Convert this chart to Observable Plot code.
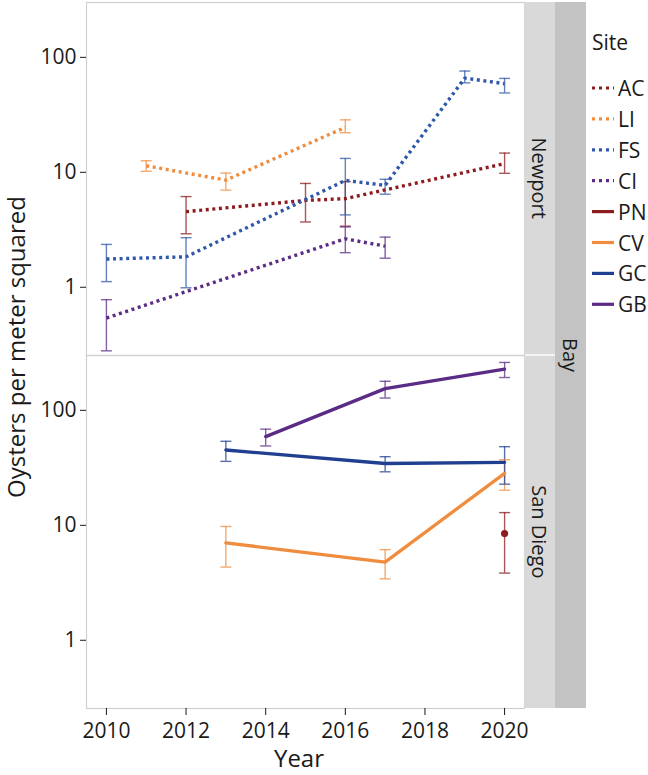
<!DOCTYPE html>
<html><head><meta charset="utf-8">
<script src="https://cdn.jsdelivr.net/npm/d3@7"></script>
<script src="https://cdn.jsdelivr.net/npm/@observablehq/plot@0.6"></script>
<style>
body{margin:0;background:#fff;}
#chart svg{display:block}
g[aria-label="x-axis tick"], g[aria-label="y-axis tick"]{stroke:#9a9a9a;}
g[aria-label="x-axis tick label"], g[aria-label="y-axis tick label"],
g[aria-label="x-axis tick label"] text, g[aria-label="y-axis tick label"] text{
  font-size:21px !important; font-family:'Open Sans', sans-serif !important; fill:#1a1a1a;}
</style></head><body><div id="chart"></div>
<script>
// Sites, their bay and colour
const sites = ["AC","LI","FS","CI","PN","CV","GC","GB"];
const siteBay = ["Newport","Newport","Newport","Newport","San Diego","San Diego","San Diego","San Diego"];
const siteColors = ["#8E1B1E","#F08C3E","#2F58A8","#5B2C86","#8E1B1E","#F08C3E","#213F90","#5B2C86"];
const bays = ["Newport","San Diego"];
const xTicks = [2010,2012,2014,2016,2018,2020];
const yTicks = [1,10,100];

// Observations (mean and error-bar limits, oysters per m²)
const obsSite = ["AC","AC","AC","AC","LI","LI","LI","FS","FS","FS","FS","FS","FS","CI","CI","CI","PN","CV","CV","CV","GC","GC","GC","GB","GB","GB"];
const obsYear = [2012,2015,2016,2020, 2011,2013,2016, 2010,2012,2016,2017,2019,2020, 2010,2016,2017, 2020, 2013,2017,2020, 2013,2017,2020, 2014,2017,2020];
const obsMean = [4.55,5.7,5.9,11.9, 11.4,8.55,24.6, 1.76,1.84,8.5,7.7,66,59, 0.54,2.64,2.28, 8.48, 7.03,4.79,28.3, 45.2,34.5,35.3, 59.1,154.6,228];
const obsLow  = [2.92,3.7,3.4,9.8, 10.2,7.0,22.1, 1.12,0.99,4.26,6.45,60,49, 0.28,2.0,1.79, 3.84, 4.33,3.42,20.2, 36,29.2,22.8, 49,128,193];
const obsHigh = [6.15,8.0,8.3,14.7, 12.6,9.85,28.6, 2.36,2.7,13.2,8.7,76,65.6, 0.78,3.35,2.73, 12.9, 9.77,6.14,37.2, 53.8,39.5,48.3, 68.6,179,261];

const data = obsSite.map((s,i)=>({site:s, bay:siteBay[sites.indexOf(s)], year:obsYear[i], mean:obsMean[i], lo:obsLow[i], hi:obsHigh[i]}));

const cap = {draw(ctx){ctx.moveTo(-5.5,0);ctx.lineTo(5.5,0);}};
const barOpts = {stroke:"site", strokeWidth:1.4, strokeOpacity:0.75};
const font = "'Open Sans', sans-serif";

const chart = Plot.plot({
  width:648, height:775, marginLeft:86, marginRight:124, marginTop:2, marginBottom:67,
  style:{fontFamily:font, fontSize:"20px", color:"#1a1a1a", background:"#fff", overflow:"visible"},
  x:{domain:[2009.5,2020.5]},
  y:{type:"log", domain:[0.255,300]},
  fy:{domain:bays, padding:0, axis:null},
  color:{domain:sites, range:siteColors},
  marks:[
    Plot.frame({stroke:"#d0d0d0", strokeWidth:1.2}),
    Plot.axisX({ticks:xTicks, tickFormat:d=>String(d), tickSize:7, tickPadding:8, label:null, fontSize:21}),
    Plot.axisY({ticks:yTicks, tickFormat:d=>String(d), tickSize:6, tickPadding:4, label:null, fontSize:21}),
    Plot.ruleX(data, {x:"year", y1:"lo", y2:"hi", fy:"bay", ...barOpts}),
    Plot.dot(data, {x:"year", y:"lo", fy:"bay", symbol:cap, fill:"none", ...barOpts}),
    Plot.dot(data, {x:"year", y:"hi", fy:"bay", symbol:cap, fill:"none", ...barOpts}),
    Plot.line(data.filter(d=>d.bay==="Newport"), {x:"year", y:"mean", z:"site", stroke:"site", fy:"bay", strokeWidth:3.4, strokeDasharray:"3,3.6", strokeLinecap:"butt", strokeLinejoin:"miter"}),
    Plot.line(data.filter(d=>d.bay==="San Diego"), {x:"year", y:"mean", z:"site", stroke:"site", fy:"bay", strokeWidth:3.3}),
    Plot.dot(data.filter(d=>d.site==="PN"), {x:"year", y:"mean", fy:"bay", fill:"site", r:3.6})
  ]
});

const svg = d3.select(chart);
const fy = chart.scale("fy");
const xr = chart.scale("x").range;
const x0 = xr[1];
const bw = fy.bandwidth;

// facet strips
bays.forEach((b,i)=>{
  const y0 = fy.apply(b) + (i>0 ? 0.7 : 0);
  const h = bw - 0.7;
  svg.append("rect").attr("x",x0).attr("y",y0).attr("width",31).attr("height",h).attr("fill","#d9d9d9");
  svg.append("text").attr("transform",`translate(${x0+15.5},${y0+h/2}) rotate(90)`)
    .attr("text-anchor","middle").attr("dominant-baseline","central")
    .attr("font-family",font).attr("font-size",20).attr("fill","#1a1a1a").text(b);
});
const yTop = fy.apply(bays[0]), yBot = fy.apply(bays[1])+bw;
svg.append("rect").attr("x",x0+31).attr("y",yTop).attr("width",31).attr("height",yBot-yTop).attr("fill","#c3c3c3");
svg.append("text").attr("transform",`translate(${x0+46.5},${(yTop+yBot)/2}) rotate(90)`)
  .attr("text-anchor","middle").attr("dominant-baseline","central")
  .attr("font-family",font).attr("font-size",20).attr("fill","#1a1a1a").text("Bay");

// axis titles
svg.append("text").attr("transform",`translate(25,${(yTop+yBot)/2 - 8}) rotate(-90)`)
  .attr("text-anchor","middle").attr("font-family",font).attr("font-size",24).attr("fill","#1a1a1a")
  .text("Oysters per meter squared");
svg.append("text").attr("x",(xr[0]+xr[1])/2 - 6).attr("y",767)
  .attr("text-anchor","middle").attr("font-family",font).attr("font-size",24).attr("fill","#1a1a1a")
  .text("Year");

// legend
const lg = svg.append("g").attr("font-family",font).attr("fill","#1a1a1a").attr("text-anchor","start");
lg.append("text").attr("x",592).attr("y",42).attr("dominant-baseline","central").attr("font-size",21).text("Site");
sites.forEach((s,i)=>{
  const y = 88 + i*30.9;
  const dotted = siteBay[i]==="Newport";
  lg.append("line").attr("x1",592).attr("x2",614).attr("y1",y).attr("y2",y)
    .attr("stroke",siteColors[i]).attr("stroke-width",3.2)
    .attr("stroke-dasharray", dotted ? "3,4" : null);
  lg.append("text").attr("x",618).attr("y",y).attr("dominant-baseline","central").attr("font-size",21).text(s);
});

document.getElementById("chart").appendChild(chart);
</script>
</body></html>
